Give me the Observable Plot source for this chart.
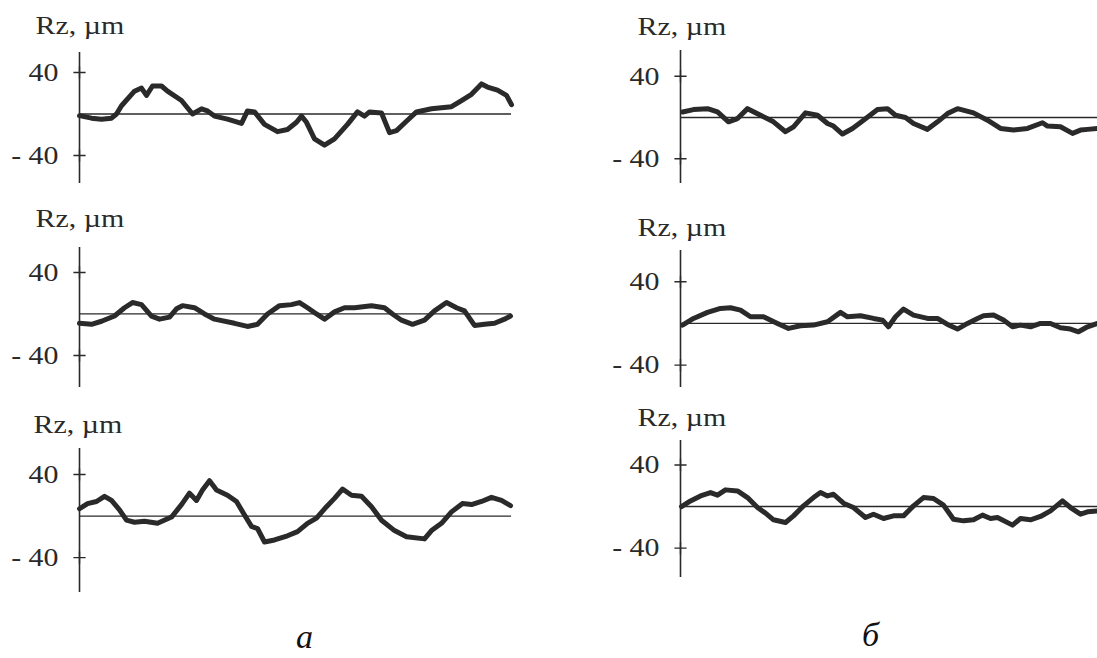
<!DOCTYPE html>
<html><head><meta charset="utf-8">
<script src="https://cdn.jsdelivr.net/npm/d3@7"></script>
<script src="https://cdn.jsdelivr.net/npm/@observablehq/plot@0.6"></script>
<style>
html,body{margin:0;padding:0;background:#fff;}
body{width:1097px;height:658px;overflow:hidden;position:relative;font-family:"Liberation Serif","Times New Roman",serif;}
.panel{position:absolute;}
.panel svg{overflow:visible;background:transparent;}
.cap{position:absolute;font-style:italic;font-size:34px;line-height:34px;height:34px;color:#111;font-family:"Liberation Serif",serif;}
</style></head><body>
<div id="p0" class="panel"></div>
<div id="p1" class="panel"></div>
<div id="p2" class="panel"></div>
<div id="p3" class="panel"></div>
<div id="p4" class="panel"></div>
<div id="p5" class="panel"></div>
<div id="capA" class="cap"></div>
<div id="capB" class="cap"></div>
<script>
// ---- data ----
const axisLabel = "Rz, \u00b5m";
const tickValues = [40, -40];
const tickLabels = ["40", "- 40"];
const captions = ["\u0430", "\u0431"];

// column "а" profiles: [position, Rz µm]
const profileA1 = [[0,-1.6],[12,-4],[22,-5],[32,-4],[37,0],[42,8],[55,22],[62,25],[67,18],[73,27],[82,27],[88,22],[102,13],[113,0],[122,5],[128,3],[135,-2],[148,-5],[162,-9],[168,3],[175,2],[185,-10],[198,-17],[208,-15],[217,-8],[222,-2],[227,-8],[235,-24],[245,-30],[255,-24],[268,-10],[278,2],[285,-2],[290,2],[302,1],[310,-18],[317,-16],[328,-6],[337,2],[352,5],[372,7],[382,13],[392,19],[402,29],[408,26],[418,23],[427,18],[432,9]];
const profileA2 = [[0,-9],[12,-10],[22,-7],[35,-2],[45,6],[53,11],[62,9],[72,-2],[80,-5],[90,-3],[97,5],[103,8],[115,6],[125,0],[135,-5],[155,-9],[168,-12],[178,-10],[188,0],[200,8],[212,9],[220,11],[228,6],[237,0],[245,-5],[255,2],[265,6],[275,6],[292,8],[305,6],[313,0],[322,-6],[333,-10],[345,-6],[355,3],[367,11],[377,6],[385,3],[395,-11],[405,-10],[415,-9],[425,-5],[431,-2]];
const profileA3 = [[0,7],[8,12],[17,14],[25,19],[32,15],[40,6],[47,-4],[55,-6],[65,-5],[78,-7],[92,-1],[102,11],[110,22],[117,15],[123,25],[130,34],[137,25],[148,20],[157,14],[165,1],[172,-10],[178,-12],[185,-25],[195,-23],[208,-19],[218,-15],[228,-7],[237,-2],[247,9],[255,17],[263,26],[272,20],[282,19],[292,9],[302,-4],[315,-14],[327,-20],[345,-22],[352,-14],[362,-7],[372,4],[383,12],[392,11],[402,14],[412,18],[422,15],[431,10]];
// column "б" profiles
const profileB1 = [[2,5.4],[13,7.7],[27,8.6],[37,5.4],[48,-4.2],[57,-1],[67,8.6],[80,2.2],[93,-4.2],[105,-13.8],[113,-9],[125,4.5],[137,2.2],[147,-5.8],[153,-8.3],[162,-16],[172,-10.6],[183,-2.6],[197,7.7],[207,8.6],[215,2.2],[225,0],[233,-5.8],[247,-11.5],[257,-4.2],[267,3.8],[277,8.6],[293,4.5],[307,-2.6],[320,-10.6],[333,-12.2],[347,-10.6],[362,-5.1],[367,-8.3],[380,-9],[392,-15.4],[400,-12.2],[407,-11.5],[417,-10.6]];
const profileB2 = [[2,-1.6],[13,4.8],[27,10.6],[40,14.4],[50,15],[60,12.8],[70,6.4],[83,6.4],[97,0],[108,-4.8],[120,-2.2],[133,-1.6],[147,1.6],[160,10.6],[167,6.4],[180,7.4],[193,4.8],[202,3.2],[208,-3.2],[215,6.4],[223,13.8],[233,8],[247,4.8],[257,4.8],[267,-1],[277,-5.4],[287,0],[297,4.8],[303,7.4],[313,8],[323,3.2],[332,-3.2],[340,-1.6],[350,-3.2],[360,0],[370,0],[380,-4.2],[390,-5.4],[398,-8],[407,-3.2],[417,0]];
const profileB3 = [[1,0],[10,5.4],[20,10.2],[30,13.4],[37,10.9],[45,16],[57,15],[67,8.6],[77,-1],[85,-6.4],[93,-12.8],[105,-15.4],[113,-9],[123,0.6],[133,8.6],[140,13.4],[147,10.2],[153,11.8],[163,3.2],[173,-1],[185,-10.6],[193,-7.4],[203,-11.5],[213,-9],[223,-9],[233,0.6],[243,8.6],[253,7.7],[263,1.3],[273,-12.2],[283,-13.8],[293,-12.8],[302,-8.3],[310,-11.5],[317,-10.6],[332,-17.9],[340,-11.5],[350,-12.8],[360,-9.6],[370,-4.2],[382,5.4],[390,-1],[400,-7.4],[407,-5.1],[417,-4.2]];

// ---- layout ----
const ink = "#2a2a2a";
const panels = [
  {id:"p0", data:profileA1, left:0,   axisX:79,  axisTop:52,  axisBottom:183, yDomain:[-67,59.3],   xMax:432, labelDx:-44, labelBase:33},
  {id:"p1", data:profileA2, left:0,   axisX:79,  axisTop:247, axisBottom:387, yDomain:[-70.8,64],   xMax:432, labelDx:-44, labelBase:226},
  {id:"p2", data:profileA3, left:0,   axisX:79,  axisTop:448, axisBottom:592, yDomain:[-73.6,65],   xMax:432, labelDx:-46, labelBase:432},
  {id:"p3", data:profileB1, left:580, axisX:680, axisTop:50,  axisBottom:183, yDomain:[-64,65],     xMax:417, labelDx:-43, labelBase:34},
  {id:"p4", data:profileB2, left:580, axisX:680, axisTop:250, axisBottom:387, yDomain:[-61.5,70],   xMax:417, labelDx:-43, labelBase:235},
  {id:"p5", data:profileB3, left:580, axisX:680, axisTop:440, axisBottom:577, yDomain:[-68.3,63.5], xMax:417, labelDx:-43, labelBase:425}
];

const mTop = 45;
for (const p of panels) {
  const mLeft = p.axisX - p.left;
  const chart = Plot.plot({
    width: mLeft + p.xMax,
    height: mTop + (p.axisBottom - p.axisTop),
    marginLeft: mLeft, marginRight: 0, marginTop: mTop, marginBottom: 0,
    style: {fontFamily: '"Liberation Serif", serif', fontSize: "26px", color: ink, background: "transparent", overflow: "visible"},
    x: {domain: [0, p.xMax], axis: null},
    y: {domain: p.yDomain, axis: null},
    marks: [
      Plot.ruleY([0], {stroke: ink, strokeWidth: 1.3}),
      Plot.ruleX([0], {stroke: ink, strokeWidth: 1.6}),
      Plot.dot(tickValues, {x: 0, y: d => d, symbol: "plus", r: 4, stroke: ink, strokeWidth: 1.4}),
      Plot.axisY(tickValues, {tickSize: 0, tickPadding: 21, fontSize: 26, fill: ink,
        tickFormat: d => tickLabels[tickValues.indexOf(d)], label: null}),
      Plot.text([axisLabel], {frameAnchor: "top-left", textAnchor: "start", lineAnchor: "bottom",
        dx: p.labelDx, dy: p.labelBase - p.axisTop, fontSize: 26, fill: ink}),
      Plot.line(p.data, {x: d => d[0], y: d => d[1], stroke: ink, strokeWidth: 5,
        strokeLinejoin: "round", strokeLinecap: "round"})
    ]
  });
  const host = document.getElementById(p.id);
  host.style.left = p.left + "px";
  host.style.top = (p.axisTop - mTop) + "px";
  host.appendChild(chart);
  // the reference typesetting is slightly wide: stretch glyphs horizontally
  chart.querySelectorAll("text").forEach(t => {
    const len = t.getComputedTextLength();
    if (len > 0) { t.setAttribute("textLength", (len * 1.15).toFixed(1)); t.setAttribute("lengthAdjust", "spacingAndGlyphs"); }
  });
}

const capA = document.getElementById("capA");
capA.textContent = captions[0];
capA.style.left = "296px"; capA.style.top = "620px";
const capB = document.getElementById("capB");
capB.textContent = captions[1];
capB.style.left = "862px"; capB.style.top = "618px";
</script>
</body></html>
